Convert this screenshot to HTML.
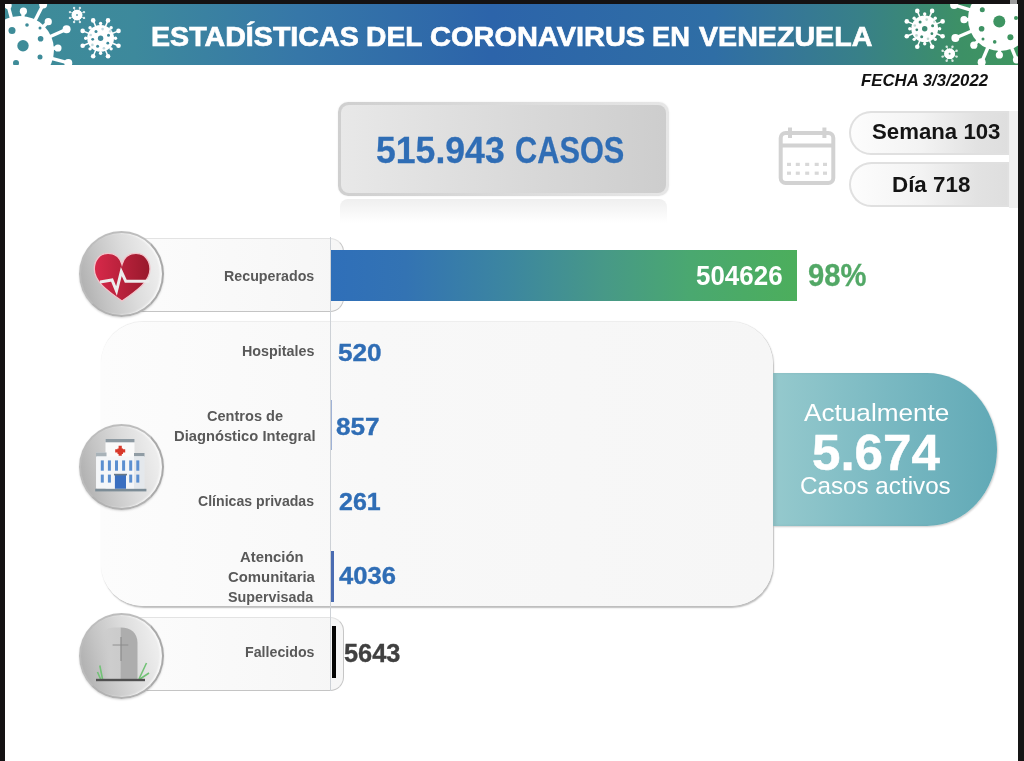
<!DOCTYPE html>
<html><head><meta charset="utf-8">
<style>
html,body{margin:0;padding:0;}
body{width:1024px;height:761px;position:relative;overflow:hidden;background:#fff;font-family:"Liberation Sans",sans-serif;}
.a{position:absolute;}
.t{position:absolute;white-space:nowrap;line-height:1;transform-origin:0 0;}
</style></head><body>

<div class="a" style="left:5px;top:4px;width:1013px;height:61px;background:linear-gradient(90deg,#3e8c98 0%,#3d899c 12.8%,#3677a8 29%,#2c64aa 48%,#2f6ea5 70%,#357698 77%,#388088 84.4%,#3d9066 94.3%,#3e9660 100%)"></div>
<svg class="a" style="left:0;top:0;filter:blur(0.3px)" width="1024" height="761" viewBox="0 0 1024 761">
<defs><clipPath id="hc"><rect x="5" y="4" width="1013" height="61"/></clipPath>
<mask id="vm" maskUnits="userSpaceOnUse" x="0" y="0" width="1024" height="761"><g><circle cx="20" cy="50" r="34" fill="#fff"/><line x1="20" y1="50" x2="8.09" y2="5.57" stroke="#fff" stroke-width="3.4"/><circle cx="8.09" cy="5.57" r="3.6" fill="#fff"/><line x1="20" y1="50" x2="23.40" y2="11.15" stroke="#fff" stroke-width="3.4"/><circle cx="23.40" cy="11.15" r="3.6" fill="#fff"/><line x1="20" y1="50" x2="43.15" y2="4.56" stroke="#fff" stroke-width="3.4"/><circle cx="43.15" cy="4.56" r="4" fill="#fff"/><line x1="20" y1="50" x2="48.28" y2="21.72" stroke="#fff" stroke-width="3.4"/><circle cx="48.28" cy="21.72" r="3.6" fill="#fff"/><line x1="20" y1="50" x2="66.59" y2="29.26" stroke="#fff" stroke-width="3.4"/><circle cx="66.59" cy="29.26" r="4" fill="#fff"/><line x1="20" y1="50" x2="57.95" y2="48.01" stroke="#fff" stroke-width="3.4"/><circle cx="57.95" cy="48.01" r="3.6" fill="#fff"/><line x1="20" y1="50" x2="68.30" y2="62.94" stroke="#fff" stroke-width="3.4"/><circle cx="68.30" cy="62.94" r="4" fill="#fff"/><line x1="20" y1="50" x2="51.13" y2="71.80" stroke="#fff" stroke-width="3.4"/><circle cx="51.13" cy="71.80" r="3.6" fill="#fff"/><line x1="20" y1="50" x2="-1.80" y2="18.87" stroke="#fff" stroke-width="3.4"/><circle cx="-1.80" cy="18.87" r="3.6" fill="#fff"/><circle cx="77" cy="15" r="5.3" fill="#fff"/><line x1="77" y1="15" x2="84.02" y2="17.91" stroke="#ccc" stroke-width="0.9"/><circle cx="84.02" cy="17.91" r="1.2" fill="#ccc"/><line x1="77" y1="15" x2="79.91" y2="22.02" stroke="#ccc" stroke-width="0.9"/><circle cx="79.91" cy="22.02" r="1.2" fill="#ccc"/><line x1="77" y1="15" x2="74.09" y2="22.02" stroke="#ccc" stroke-width="0.9"/><circle cx="74.09" cy="22.02" r="1.2" fill="#ccc"/><line x1="77" y1="15" x2="69.98" y2="17.91" stroke="#ccc" stroke-width="0.9"/><circle cx="69.98" cy="17.91" r="1.2" fill="#ccc"/><line x1="77" y1="15" x2="69.98" y2="12.09" stroke="#ccc" stroke-width="0.9"/><circle cx="69.98" cy="12.09" r="1.2" fill="#ccc"/><line x1="77" y1="15" x2="74.09" y2="7.98" stroke="#ccc" stroke-width="0.9"/><circle cx="74.09" cy="7.98" r="1.2" fill="#ccc"/><line x1="77" y1="15" x2="79.91" y2="7.98" stroke="#ccc" stroke-width="0.9"/><circle cx="79.91" cy="7.98" r="1.2" fill="#ccc"/><line x1="77" y1="15" x2="84.02" y2="12.09" stroke="#ccc" stroke-width="0.9"/><circle cx="84.02" cy="12.09" r="1.2" fill="#ccc"/><circle cx="77" cy="15" r="5.3" fill="#fff"/><circle cx="100.6" cy="38.3" r="13.4" fill="#fff"/><line x1="100.6" y1="38.3" x2="118.52" y2="45.72" stroke="#fff" stroke-width="1.5"/><circle cx="118.52" cy="45.72" r="2.3" fill="#fff"/><line x1="100.6" y1="38.3" x2="115.50" y2="38.30" stroke="#fff" stroke-width="1.5"/><circle cx="115.50" cy="38.30" r="1.7" fill="#fff"/><line x1="100.6" y1="38.3" x2="108.02" y2="56.22" stroke="#fff" stroke-width="1.5"/><circle cx="108.02" cy="56.22" r="2.3" fill="#fff"/><line x1="100.6" y1="38.3" x2="111.14" y2="48.84" stroke="#fff" stroke-width="1.5"/><circle cx="111.14" cy="48.84" r="1.7" fill="#fff"/><line x1="100.6" y1="38.3" x2="93.18" y2="56.22" stroke="#fff" stroke-width="1.5"/><circle cx="93.18" cy="56.22" r="2.3" fill="#fff"/><line x1="100.6" y1="38.3" x2="100.60" y2="53.20" stroke="#fff" stroke-width="1.5"/><circle cx="100.60" cy="53.20" r="1.7" fill="#fff"/><line x1="100.6" y1="38.3" x2="82.68" y2="45.72" stroke="#fff" stroke-width="1.5"/><circle cx="82.68" cy="45.72" r="2.3" fill="#fff"/><line x1="100.6" y1="38.3" x2="90.06" y2="48.84" stroke="#fff" stroke-width="1.5"/><circle cx="90.06" cy="48.84" r="1.7" fill="#fff"/><line x1="100.6" y1="38.3" x2="82.68" y2="30.88" stroke="#fff" stroke-width="1.5"/><circle cx="82.68" cy="30.88" r="2.3" fill="#fff"/><line x1="100.6" y1="38.3" x2="85.70" y2="38.30" stroke="#fff" stroke-width="1.5"/><circle cx="85.70" cy="38.30" r="1.7" fill="#fff"/><line x1="100.6" y1="38.3" x2="93.18" y2="20.38" stroke="#fff" stroke-width="1.5"/><circle cx="93.18" cy="20.38" r="2.3" fill="#fff"/><line x1="100.6" y1="38.3" x2="90.06" y2="27.76" stroke="#fff" stroke-width="1.5"/><circle cx="90.06" cy="27.76" r="1.7" fill="#fff"/><line x1="100.6" y1="38.3" x2="108.02" y2="20.38" stroke="#fff" stroke-width="1.5"/><circle cx="108.02" cy="20.38" r="2.3" fill="#fff"/><line x1="100.6" y1="38.3" x2="100.60" y2="23.40" stroke="#fff" stroke-width="1.5"/><circle cx="100.60" cy="23.40" r="1.7" fill="#fff"/><line x1="100.6" y1="38.3" x2="118.52" y2="30.88" stroke="#fff" stroke-width="1.5"/><circle cx="118.52" cy="30.88" r="2.3" fill="#fff"/><line x1="100.6" y1="38.3" x2="111.14" y2="27.76" stroke="#fff" stroke-width="1.5"/><circle cx="111.14" cy="27.76" r="1.7" fill="#fff"/><circle cx="924.7" cy="28.8" r="13.4" fill="#fff"/><line x1="924.7" y1="28.8" x2="942.62" y2="36.22" stroke="#fff" stroke-width="1.5"/><circle cx="942.62" cy="36.22" r="2.3" fill="#fff"/><line x1="924.7" y1="28.8" x2="939.60" y2="28.80" stroke="#fff" stroke-width="1.5"/><circle cx="939.60" cy="28.80" r="1.7" fill="#fff"/><line x1="924.7" y1="28.8" x2="932.12" y2="46.72" stroke="#fff" stroke-width="1.5"/><circle cx="932.12" cy="46.72" r="2.3" fill="#fff"/><line x1="924.7" y1="28.8" x2="935.24" y2="39.34" stroke="#fff" stroke-width="1.5"/><circle cx="935.24" cy="39.34" r="1.7" fill="#fff"/><line x1="924.7" y1="28.8" x2="917.28" y2="46.72" stroke="#fff" stroke-width="1.5"/><circle cx="917.28" cy="46.72" r="2.3" fill="#fff"/><line x1="924.7" y1="28.8" x2="924.70" y2="43.70" stroke="#fff" stroke-width="1.5"/><circle cx="924.70" cy="43.70" r="1.7" fill="#fff"/><line x1="924.7" y1="28.8" x2="906.78" y2="36.22" stroke="#fff" stroke-width="1.5"/><circle cx="906.78" cy="36.22" r="2.3" fill="#fff"/><line x1="924.7" y1="28.8" x2="914.16" y2="39.34" stroke="#fff" stroke-width="1.5"/><circle cx="914.16" cy="39.34" r="1.7" fill="#fff"/><line x1="924.7" y1="28.8" x2="906.78" y2="21.38" stroke="#fff" stroke-width="1.5"/><circle cx="906.78" cy="21.38" r="2.3" fill="#fff"/><line x1="924.7" y1="28.8" x2="909.80" y2="28.80" stroke="#fff" stroke-width="1.5"/><circle cx="909.80" cy="28.80" r="1.7" fill="#fff"/><line x1="924.7" y1="28.8" x2="917.28" y2="10.88" stroke="#fff" stroke-width="1.5"/><circle cx="917.28" cy="10.88" r="2.3" fill="#fff"/><line x1="924.7" y1="28.8" x2="914.16" y2="18.26" stroke="#fff" stroke-width="1.5"/><circle cx="914.16" cy="18.26" r="1.7" fill="#fff"/><line x1="924.7" y1="28.8" x2="932.12" y2="10.88" stroke="#fff" stroke-width="1.5"/><circle cx="932.12" cy="10.88" r="2.3" fill="#fff"/><line x1="924.7" y1="28.8" x2="924.70" y2="13.90" stroke="#fff" stroke-width="1.5"/><circle cx="924.70" cy="13.90" r="1.7" fill="#fff"/><line x1="924.7" y1="28.8" x2="942.62" y2="21.38" stroke="#fff" stroke-width="1.5"/><circle cx="942.62" cy="21.38" r="2.3" fill="#fff"/><line x1="924.7" y1="28.8" x2="935.24" y2="18.26" stroke="#fff" stroke-width="1.5"/><circle cx="935.24" cy="18.26" r="1.7" fill="#fff"/><circle cx="949.6" cy="53.7" r="5.3" fill="#fff"/><line x1="949.6" y1="53.7" x2="956.62" y2="56.61" stroke="#ccc" stroke-width="0.9"/><circle cx="956.62" cy="56.61" r="1.2" fill="#ccc"/><line x1="949.6" y1="53.7" x2="952.51" y2="60.72" stroke="#ccc" stroke-width="0.9"/><circle cx="952.51" cy="60.72" r="1.2" fill="#ccc"/><line x1="949.6" y1="53.7" x2="946.69" y2="60.72" stroke="#ccc" stroke-width="0.9"/><circle cx="946.69" cy="60.72" r="1.2" fill="#ccc"/><line x1="949.6" y1="53.7" x2="942.58" y2="56.61" stroke="#ccc" stroke-width="0.9"/><circle cx="942.58" cy="56.61" r="1.2" fill="#ccc"/><line x1="949.6" y1="53.7" x2="942.58" y2="50.79" stroke="#ccc" stroke-width="0.9"/><circle cx="942.58" cy="50.79" r="1.2" fill="#ccc"/><line x1="949.6" y1="53.7" x2="946.69" y2="46.68" stroke="#ccc" stroke-width="0.9"/><circle cx="946.69" cy="46.68" r="1.2" fill="#ccc"/><line x1="949.6" y1="53.7" x2="952.51" y2="46.68" stroke="#ccc" stroke-width="0.9"/><circle cx="952.51" cy="46.68" r="1.2" fill="#ccc"/><line x1="949.6" y1="53.7" x2="956.62" y2="50.79" stroke="#ccc" stroke-width="0.9"/><circle cx="956.62" cy="50.79" r="1.2" fill="#ccc"/><circle cx="949.6" cy="53.7" r="5.3" fill="#fff"/><circle cx="1000" cy="19" r="32" fill="#fff"/><line x1="1000" y1="19" x2="1016.48" y2="59.80" stroke="#fff" stroke-width="3.4"/><circle cx="1016.48" cy="59.80" r="3.6" fill="#fff"/><line x1="1000" y1="19" x2="999.37" y2="54.99" stroke="#fff" stroke-width="3.4"/><circle cx="999.37" cy="54.99" r="3.6" fill="#fff"/><line x1="1000" y1="19" x2="981.64" y2="62.26" stroke="#fff" stroke-width="3.4"/><circle cx="981.64" cy="62.26" r="4" fill="#fff"/><line x1="1000" y1="19" x2="973.84" y2="45.16" stroke="#fff" stroke-width="3.4"/><circle cx="973.84" cy="45.16" r="3.6" fill="#fff"/><line x1="1000" y1="19" x2="955.36" y2="37.95" stroke="#fff" stroke-width="3.4"/><circle cx="955.36" cy="37.95" r="4" fill="#fff"/><line x1="1000" y1="19" x2="964.01" y2="19.63" stroke="#fff" stroke-width="3.4"/><circle cx="964.01" cy="19.63" r="3.6" fill="#fff"/><line x1="1000" y1="19" x2="954.10" y2="4.97" stroke="#fff" stroke-width="3.4"/><circle cx="954.10" cy="4.97" r="4" fill="#fff"/><line x1="1000" y1="19" x2="971.25" y2="-4.28" stroke="#fff" stroke-width="3.4"/><circle cx="971.25" cy="-4.28" r="3.6" fill="#fff"/><line x1="1000" y1="19" x2="1026.16" y2="45.16" stroke="#fff" stroke-width="3.4"/><circle cx="1026.16" cy="45.16" r="3.6" fill="#fff"/></g><g><circle cx="23" cy="45.7" r="5.7" fill="#000"/><circle cx="12" cy="30.5" r="3.5" fill="#000"/><circle cx="27" cy="25" r="1.8" fill="#000"/><circle cx="40" cy="28" r="1.5" fill="#000"/><circle cx="40.6" cy="38.7" r="2.8" fill="#000"/><circle cx="40" cy="57" r="2.5" fill="#000"/><circle cx="16" cy="63" r="3" fill="#000"/><circle cx="77" cy="15" r="1.0" fill="#333"/><circle cx="100.6" cy="38.3" r="2.7" fill="#000"/><circle cx="96.00" cy="31.40" r="1.5" fill="#000"/><circle cx="108.50" cy="35.30" r="1.5" fill="#000"/><circle cx="92.70" cy="39.30" r="1.4" fill="#000"/><circle cx="107.80" cy="43.20" r="1.4" fill="#000"/><circle cx="97.60" cy="46.20" r="1.5" fill="#000"/><circle cx="102.60" cy="29.10" r="1.3" fill="#aaa"/><circle cx="90.70" cy="35.00" r="1.3" fill="#aaa"/><circle cx="92.40" cy="44.90" r="1.3" fill="#aaa"/><circle cx="103.90" cy="48.20" r="1.3" fill="#aaa"/><circle cx="110.10" cy="31.30" r="1.2" fill="#bbb"/><circle cx="924.7" cy="28.8" r="2.7" fill="#000"/><circle cx="920.10" cy="21.90" r="1.5" fill="#000"/><circle cx="932.60" cy="25.80" r="1.5" fill="#000"/><circle cx="916.80" cy="29.80" r="1.4" fill="#000"/><circle cx="931.90" cy="33.70" r="1.4" fill="#000"/><circle cx="921.70" cy="36.70" r="1.5" fill="#000"/><circle cx="926.70" cy="19.60" r="1.3" fill="#aaa"/><circle cx="914.80" cy="25.50" r="1.3" fill="#aaa"/><circle cx="916.50" cy="35.40" r="1.3" fill="#aaa"/><circle cx="928.00" cy="38.70" r="1.3" fill="#aaa"/><circle cx="934.20" cy="21.80" r="1.2" fill="#bbb"/><circle cx="949.6" cy="53.7" r="1.0" fill="#333"/><circle cx="999.3" cy="21.6" r="6" fill="#000"/><circle cx="981.6" cy="28.8" r="2.8" fill="#000"/><circle cx="982.3" cy="9.8" r="2.5" fill="#000"/><circle cx="1010.4" cy="37.3" r="3" fill="#000"/><circle cx="983" cy="39" r="1.5" fill="#000"/><circle cx="994.7" cy="41.9" r="1.8" fill="#000"/><circle cx="1016" cy="18" r="2" fill="#000"/></g></mask></defs>
<rect x="5" y="4" width="1013" height="61" fill="#fff" mask="url(#vm)" clip-path="url(#hc)"/>
</svg>
<div id="t1" class="t" style="left:151.18px;top:21.56px;font-size:28.4px;color:#fff;transform:scaleX(1.0079);font-weight:bold;-webkit-text-stroke:0.7px #fff;">ESTADÍSTICAS</div>
<div id="t2" class="t" style="left:366.11px;top:21.56px;font-size:28.4px;color:#fff;transform:scaleX(0.9944);font-weight:bold;-webkit-text-stroke:0.7px #fff;">DEL</div>
<div id="t3" class="t" style="left:429.58px;top:21.56px;font-size:28.4px;color:#fff;transform:scaleX(1.0206);font-weight:bold;-webkit-text-stroke:0.7px #fff;">CORONAVIRUS</div>
<div id="t4" class="t" style="left:652.28px;top:21.56px;font-size:28.4px;color:#fff;transform:scaleX(0.9611);font-weight:bold;-webkit-text-stroke:0.7px #fff;">EN</div>
<div id="t5" class="t" style="left:698.6px;top:21.56px;font-size:28.4px;color:#fff;transform:scaleX(1.0082);font-weight:bold;-webkit-text-stroke:0.7px #fff;">VENEZUELA</div>

<div id="fecha" class="t" style="left:861.0px;top:71.91px;font-size:16.2px;color:#111;transform:scaleX(1.0358);font-weight:bold;font-style:italic;">FECHA 3/3/2022</div>


<!-- casos box -->
<div class="a" style="left:340px;top:199px;width:327px;height:24px;border-radius:8px 8px 0 0;background:linear-gradient(180deg,#efefef,rgba(255,255,255,0))"></div>
<div class="a" style="left:338px;top:102px;width:331px;height:94px;border-radius:10px;background:linear-gradient(90deg,#cfcfcf,#e6e6e6);box-shadow:0 0 2px rgba(0,0,0,.08)"></div>
<div class="a" style="left:341px;top:105px;width:325px;height:88px;border-radius:8px;background:linear-gradient(90deg,#e8e8e8,#cdcdcd)"></div>
<div id="c1" class="t" style="left:376.04px;top:131.68px;font-size:37px;color:#2f6db5;transform:scaleX(0.9621);font-weight:bold;-webkit-text-stroke:0.3px #2f6db5;">515.943</div>
<div id="c2" class="t" style="left:515.04px;top:131.68px;font-size:37px;color:#2f6db5;transform:scaleX(0.8305);font-weight:bold;-webkit-text-stroke:0.3px #2f6db5;">CASOS</div>


<!-- calendar -->
<svg class="a" style="left:770px;top:120px;filter:blur(0.4px)" width="80" height="75" viewBox="770 120 80 75">
<g fill="none" stroke="#d2d2d2" stroke-width="4" style="filter:blur(0.5px)">
<rect x="780.7" y="133" width="52.6" height="50" rx="5"/>
<line x1="781" y1="145.5" x2="833" y2="145.5"/>
<line x1="790" y1="127.5" x2="790" y2="138"/>
<line x1="824.4" y1="127.5" x2="824.4" y2="138"/>
</g>
<g fill="#d8d8d8">
<rect x="787" y="162.8" width="4" height="3.2"/><rect x="795.8" y="162.8" width="4" height="3.2"/><rect x="805.2" y="162.8" width="4" height="3.2"/><rect x="814.7" y="162.8" width="4" height="3.2"/><rect x="823" y="162.8" width="4" height="3.2"/><rect x="787" y="171.6" width="4" height="3.2"/><rect x="795.8" y="171.6" width="4" height="3.2"/><rect x="805.2" y="171.6" width="4" height="3.2"/><rect x="814.7" y="171.6" width="4" height="3.2"/><rect x="823" y="171.6" width="4" height="3.2"/>
</g></svg>

<!-- semana/dia pills -->
<div class="a" style="left:849px;top:111px;width:160px;height:44px;border-radius:22.5px 0 0 22.5px;background:linear-gradient(90deg,#fdfdfd 0%,#f3f3f3 45%,#e2e2e2 80%,#dedede 100%);box-shadow:inset 0 0 0 2px #e0e0e0"></div>
<div class="a" style="left:849px;top:162px;width:160px;height:45px;border-radius:23px 0 0 23px;background:linear-gradient(90deg,#fdfdfd 0%,#f3f3f3 45%,#e2e2e2 80%,#dedede 100%);box-shadow:inset 0 0 0 2px #e0e0e0"></div>
<div class="a" style="left:1009px;top:111px;width:9px;height:97px;background:#efefef"></div>
<div id="semana" class="t" style="left:872.01px;top:120.72px;font-size:22.4px;color:#141414;transform:scaleX(0.9922);font-weight:bold;">Semana 103</div>

<div id="dia" class="t" style="left:892.0px;top:173.72px;font-size:22.4px;color:#141414;transform:scaleX(0.999);font-weight:bold;">Día 718</div>


<!-- panel -->
<div class="a" style="left:101px;top:322px;width:672px;height:284px;border-radius:42px;background:linear-gradient(90deg,#fcfcfc,#f8f8f8 40%,#f6f6f6);box-shadow:1px 1.5px 1.5px rgba(0,0,0,.26),0 -0.5px 1px rgba(0,0,0,.07)"></div>

<!-- recuperados -->
<div class="a" style="left:120px;top:238px;width:224px;height:74px;border-radius:0 14px 14px 0;background:linear-gradient(90deg,#fcfcfc,#f6f6f6);box-sizing:border-box;border-top:1px solid #e3e3e3;border-right:1.5px solid #c6c6c6;border-bottom:1.5px solid #c4c4c4"></div>
<div class="a" style="left:331px;top:250px;width:466px;height:51px;background:linear-gradient(90deg,#2f6fb9 0%,#3373b3 16%,#3c86a0 38%,#479888 58%,#4aa870 77%,#4cae5c 100%)"></div>
<div id="recup" class="t" style="left:223.75px;top:267.9px;font-size:15px;color:#595959;transform:scaleX(0.95);font-weight:bold;">Recuperados</div>

<div id="n504" class="t" style="left:696.04px;top:262.98px;font-size:27px;color:#fff;transform:scaleX(0.9614);font-weight:bold;">504626</div>

<div id="p98" class="t" style="left:808.06px;top:260.44px;font-size:31px;color:#52a866;transform:scaleX(0.9417);font-weight:bold;-webkit-text-stroke:0.3px #52a866;">98%</div>


<!-- active tab -->
<div class="a" style="left:773px;top:373px;width:224px;height:153px;border-radius:0 70px 70px 0/0 76px 76px 0;background:linear-gradient(90deg,#95c9cd,#7ab9c2 50%,#61a9b6);box-shadow:1px 1px 2px rgba(0,0,0,.2),inset 3px 0 3px rgba(0,0,0,.07)"></div>
<div id="act" class="t" style="left:803.5px;top:401.23px;font-size:24.8px;color:#fff;transform:scaleX(1.0547);">Actualmente</div>

<div id="n5674" class="t" style="left:811.66px;top:427.5px;font-size:50px;color:#fff;transform:scaleX(1.022);font-weight:bold;-webkit-text-stroke:0.5px #fff;">5.674</div>

<div id="cact" class="t" style="left:800.02px;top:474.43px;font-size:24.8px;color:#fff;transform:scaleX(0.9765);">Casos activos</div>


<!-- fallecidos -->
<div class="a" style="left:120px;top:617px;width:224px;height:74px;border-radius:0 14px 14px 0;background:linear-gradient(90deg,#fcfcfc,#f6f6f6);box-sizing:border-box;border-top:1px solid #e3e3e3;border-right:1.5px solid #c6c6c6;border-bottom:1.5px solid #c4c4c4"></div>
<div class="a" style="left:331.5px;top:626px;width:4.5px;height:52px;background:#050505"></div>
<div id="fall" class="t" style="left:245.46px;top:644.07px;font-size:15.2px;color:#595959;transform:scaleX(0.9356);font-weight:bold;">Fallecidos</div>

<div id="n5643" class="t" style="left:344.02px;top:639.84px;font-size:26px;color:#404040;transform:scaleX(0.9768);font-weight:bold;-webkit-text-stroke:0.35px #404040;">5643</div>


<!-- vertical line -->
<div class="a" style="left:330px;top:237px;width:1px;height:454px;background:#cdd1d6"></div>

<div id="hosp" class="t" style="left:241.58px;top:343.22px;font-size:15.5px;color:#595959;transform:scaleX(0.9234);font-weight:bold;">Hospitales</div>
<div id="n520" class="t" style="left:337.91px;top:341.36px;font-size:24px;color:#2f6db5;transform:scaleX(1.0895);font-weight:bold;-webkit-text-stroke:0.35px #2f6db5;">520</div>
<div id="cdi1" class="t" style="left:206.76px;top:408.32px;font-size:15.5px;color:#595959;transform:scaleX(0.9392);font-weight:bold;">Centros de</div>
<div id="cdi2" class="t" style="left:173.75px;top:427.82px;font-size:15.5px;color:#595959;transform:scaleX(0.9503);font-weight:bold;">Diagnóstico Integral</div>
<div id="n857" class="t" style="left:335.91px;top:415.06px;font-size:24px;color:#2f6db5;transform:scaleX(1.0895);font-weight:bold;-webkit-text-stroke:0.35px #2f6db5;">857</div>
<div id="clin" class="t" style="left:198.49px;top:492.92px;font-size:15.5px;color:#595959;transform:scaleX(0.9103);font-weight:bold;">Clínicas privadas</div>
<div id="n261" class="t" style="left:338.76px;top:490.26px;font-size:24px;color:#2f6db5;transform:scaleX(1.041);font-weight:bold;-webkit-text-stroke:0.35px #2f6db5;">261</div>
<div id="acs1" class="t" style="left:239.84px;top:548.82px;font-size:15.5px;color:#595959;transform:scaleX(0.9594);font-weight:bold;">Atención</div>
<div id="acs2" class="t" style="left:227.64px;top:569.12px;font-size:15.5px;color:#595959;transform:scaleX(0.9607);font-weight:bold;">Comunitaria</div>
<div id="acs3" class="t" style="left:228.08px;top:589.42px;font-size:15.5px;color:#595959;transform:scaleX(0.9242);font-weight:bold;">Supervisada</div>

<div class="a" style="left:331px;top:551px;width:3px;height:51px;background:#4a6cb2"></div>
<div class="a" style="left:331px;top:400px;width:1px;height:50px;background:#9fb2d6"></div>
<div id="n4036" class="t" style="left:338.5px;top:563.88px;font-size:24.5px;color:#2f6db5;transform:scaleX(1.0444);font-weight:bold;-webkit-text-stroke:0.35px #2f6db5;">4036</div>


<!-- icon circles -->
<div class="a" style="left:79px;top:231px;width:85px;height:86px;border-radius:50%;box-sizing:border-box;border:2.5px solid;border-color:#bdbdbd #a9a9a9 #b2b2b2 #bcbcbc;background:linear-gradient(75deg,#a9a9a9 0%,#c4c4c4 28%,#dcdcdc 58%,#ececec 85%,#eeeeee 100%);box-shadow:inset -2px 0 2px rgba(255,255,255,.7),0 1px 2px rgba(0,0,0,.15)"></div>
<div class="a" style="left:79px;top:424px;width:85px;height:86px;border-radius:50%;box-sizing:border-box;border:2.5px solid;border-color:#bdbdbd #a9a9a9 #b2b2b2 #bcbcbc;background:linear-gradient(75deg,#a9a9a9 0%,#c4c4c4 28%,#dcdcdc 58%,#ececec 85%,#eeeeee 100%);box-shadow:inset -2px 0 2px rgba(255,255,255,.7),0 1px 2px rgba(0,0,0,.15)"></div>
<div class="a" style="left:79px;top:613px;width:85px;height:86px;border-radius:50%;box-sizing:border-box;border:2.5px solid;border-color:#bdbdbd #a9a9a9 #b2b2b2 #bcbcbc;background:linear-gradient(75deg,#a9a9a9 0%,#c4c4c4 28%,#dcdcdc 58%,#ececec 85%,#eeeeee 100%);box-shadow:inset -2px 0 2px rgba(255,255,255,.7),0 1px 2px rgba(0,0,0,.15)"></div>

<!-- heart -->
<svg class="a" style="left:80px;top:240px" width="85" height="75" viewBox="80 240 85 75">
<defs><linearGradient id="hg" x1="0" x2="1" y1="0" y2="0"><stop offset="0" stop-color="#d8294a"/><stop offset="1" stop-color="#98192c"/></linearGradient></defs>
<path d="M122,264.5 C120,257 114.5,253.3 108,253.3 C99.5,253.3 94.3,260.5 94.3,269 C94.3,281 106,290 122,301 C138,290 150,281 150,269 C150,260.5 144.5,253.3 136,253.3 C129.5,253.3 124,257 122,264.5 Z" fill="url(#hg)" stroke="#f2c4cb" stroke-width="1.3"/>
<polyline points="100,282 112,280 116.5,291 121.3,271.5 125.8,281.3 149.5,281.3" fill="none" stroke="#ececec" stroke-width="3" stroke-linejoin="miter"/>
</svg>

<!-- hospital -->
<svg class="a" style="left:80px;top:430px" width="85" height="75" viewBox="80 430 85 75">
<rect x="105.5" y="439" width="29" height="50" fill="#fafafa"/>
<rect x="105.5" y="439" width="29" height="3.3" fill="#8e9aa2"/>
<rect x="96" y="452.5" width="10.5" height="36" fill="#f2f4f6"/>
<rect x="134" y="453" width="10.5" height="35.5" fill="#e6eaee"/>
<rect x="96" y="452.5" width="10.5" height="4" fill="#a8b2b8"/>
<rect x="134" y="453" width="10.5" height="3.5" fill="#909ca4"/>
<rect x="96.8" y="456.5" width="47.2" height="32" fill="#f4f6f8"/>
<rect x="134" y="456.5" width="10" height="32" fill="#e4e8ec"/>
<rect x="100.8" y="460.4" width="3" height="10.3" fill="#5b8fd0"/><rect x="107.9" y="460.4" width="3" height="10.3" fill="#5b8fd0"/><rect x="115.0" y="460.4" width="3" height="10.3" fill="#5b8fd0"/><rect x="122.1" y="460.4" width="3" height="10.3" fill="#5b8fd0"/><rect x="129.2" y="460.4" width="3" height="10.3" fill="#5b8fd0"/><rect x="136.3" y="460.4" width="3" height="10.3" fill="#5b8fd0"/><rect x="100.8" y="474.6" width="3" height="8" fill="#5b8fd0"/><rect x="107.9" y="474.6" width="3" height="8" fill="#5b8fd0"/><rect x="129.2" y="474.6" width="3" height="8" fill="#5b8fd0"/><rect x="136.3" y="474.6" width="3" height="8" fill="#5b8fd0"/>
<rect x="114.9" y="474.6" width="11.1" height="14.2" fill="#3a6fc0"/>
<rect x="114" y="473.8" width="13" height="1.6" fill="#6a7a88"/>
<rect x="117.5" y="448.5" width="5.5" height="5.5" fill="#d63a2a" transform="rotate(0)"/>
<path d="M118.6,445.8h3.2v3.4h3.4v3.2h-3.4v3.4h-3.2v-3.4h-3.4v-3.2h3.4z" fill="#d8382a"/>
<rect x="95.2" y="488.8" width="51.2" height="2.6" fill="#7c8c96"/>
</svg>

<!-- tombstone -->
<svg class="a" style="left:80px;top:615px" width="85" height="80" viewBox="80 615 85 80">
<defs><linearGradient id="tl" x1="0" x2="1"><stop offset="0" stop-color="#cacaca" stop-opacity="0"/><stop offset="0.4" stop-color="#cdcdcd"/><stop offset="1" stop-color="#cbcbcb"/></linearGradient></defs>
<path d="M103,679 V638 Q103,627.4 113,627.4 H120.6 V679 Z" fill="url(#tl)"/>
<path d="M120.6,627.4 C131,627.4 137.5,633 137.5,643 V679 H120.6 Z" fill="#adadad"/>
<line x1="121" y1="637" x2="121" y2="661" stroke="#858585" stroke-width="1"/>
<line x1="112.6" y1="645" x2="128.3" y2="645" stroke="#8a8a8a" stroke-width="0.9"/>
<g stroke="#72c276" stroke-width="1.6" fill="none" style="filter:blur(0.3px)">
<path d="M102.5,679 L99.8,665.5"/><path d="M100.5,679 L97.5,672"/>
<path d="M139,679 L146.5,663"/><path d="M140,679 L149,673"/>
</g>
<rect x="96" y="678.8" width="49" height="2.4" fill="#505050"/>
</svg>

<div class="a" style="left:0;top:0;width:1024px;height:4px;background:#141213"></div>
<div class="a" style="left:0;top:0;width:5px;height:761px;background:#141213"></div>
<div class="a" style="left:1018px;top:0;width:6px;height:761px;background:#151515"></div>
<div class="a" style="left:1010px;top:0;width:7px;height:4px;background:#9c9c9c"></div>
</body></html>
